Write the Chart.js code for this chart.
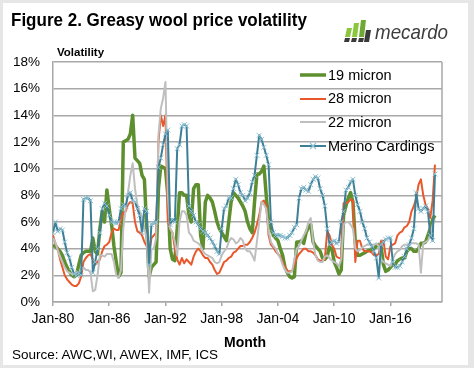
<!DOCTYPE html>
<html><head><meta charset="utf-8">
<script src="https://cdn.jsdelivr.net/npm/chart.js@4.4.0/dist/chart.umd.min.js"></script>
<style>
html,body{margin:0;padding:0;}
body{width:474px;height:368px;background:#e6e6e6;position:relative;overflow:hidden;font-family:"Liberation Sans",Arial,sans-serif;}
#panel{position:absolute;left:3px;top:3px;width:465px;height:362px;background:#fff;}
#c{position:absolute;left:0;top:0;}
.t{position:absolute;white-space:nowrap;line-height:1;color:#000;}
.lg{position:absolute;left:300px;}
.lt{position:absolute;left:328px;font-size:14.5px;line-height:1;white-space:nowrap;color:#000;}
</style></head>
<body>
<div id="panel"></div>
<canvas id="c" width="474" height="368"></canvas>
<div class="t" style="left:11px;top:10.8px;font-size:18px;font-weight:bold;transform:scaleX(0.945);transform-origin:0 0;">Figure 2. Greasy wool price volatility</div>
<svg style="position:absolute;left:343px;top:18px" width="112" height="28" viewBox="0 0 112 28">
  <polygon points="4,10 9,10 7,19 2,19" fill="#8cc63f"/>
  <polygon points="11,5 16,5 14,19 9,19" fill="#8cc63f"/>
  <polygon points="18,2 23,2 21,19 16,19" fill="#6fa832"/>
  <polygon points="2,20 7,20 6,24 1,24" fill="#3a3a3a"/>
  <polygon points="9,20 14,20 13,24 8,24" fill="#3a3a3a"/>
  <polygon points="16,20 21,20 20,24 15,24" fill="#3a3a3a"/>
  <polygon points="23,12 28,12 26,24 21,24" fill="#3a3a3a"/>
  <text x="32" y="21" font-family="Liberation Sans, Arial, sans-serif" font-style="italic" font-size="21" fill="#3d3d3d" textLength="73" lengthAdjust="spacingAndGlyphs">mecardo</text>
</svg>
<div class="t" style="left:57px;top:47.3px;font-size:11.5px;font-weight:bold;">Volatility</div>
<div class="t" style="left:224px;top:334.7px;font-size:14px;font-weight:bold;">Month</div>
<div class="t" style="left:12px;top:347.6px;font-size:13.5px;">Source: AWC,WI, AWEX, IMF, ICS</div>

<svg class="lg" style="top:69.5px" width="27" height="10"><line x1="0" y1="5" x2="26" y2="5" stroke="#5e8f2f" stroke-width="3.5"/></svg>
<div class="lt" style="top:67.7px">19 micron</div>
<svg class="lg" style="top:93.5px" width="27" height="10"><line x1="0" y1="5" x2="26" y2="5" stroke="#e9582b" stroke-width="2"/></svg>
<div class="lt" style="top:91.2px">28 micron</div>
<svg class="lg" style="top:117px" width="27" height="10"><line x1="0" y1="5" x2="26" y2="5" stroke="#bfbfbf" stroke-width="2"/></svg>
<div class="lt" style="top:114.7px">22 micron</div>
<svg class="lg" style="top:141px" width="27" height="10"><line x1="0" y1="5" x2="26" y2="5" stroke="#3d7f96" stroke-width="2"/><path d="M10,2 L16,8 M16,2 L10,8" stroke="#8ec1d3" stroke-width="1.2"/></svg>
<div class="lt" style="top:138.7px">Merino Cardings</div>

<script>
// Quarterly readings (Jan, Apr, Jul, Oct) from Jan-1980 to Oct-2020, volatility in %
const micron19 = [
4.2,4.2,4.0,3.8, 3.5,3.0,2.6,2.3, 2.0,1.9,2.0,2.8, 3.5,3.7,3.8,3.8, 3.8,4.8,3.8,3.6,
5.5,6.8,6.0,8.4, 7.0,5.8,4.2,3.0, 1.9,2.2,12.0,12.1, 12.2,12.6,14.0,10.8, 10.6,10.4,9.5,9.2,
5.5,1.9,2.6,2.8, 3.0,8.5,10.2,10.1, 10.0,8.0,4.0,3.2, 3.1,5.5,8.2,8.2, 8.0,8.0,6.5,6.0,
8.5,8.8,8.8,5.0, 4.0,7.5,8.0,7.8, 7.5,6.8,6.0,5.5, 5.2,4.9,4.6,6.0, 7.5,8.2,8.0,7.8,
7.5,7.2,6.8,6.0, 5.5,5.2,7.5,9.6, 9.6,9.8,10.2,8.0, 6.0,5.5,5.0,4.8, 4.6,4.0,3.5,2.6,
2.2,1.9,1.8,1.9, 4.5,4.5,4.6,4.4, 5.2,5.6,5.8,4.5, 4.2,4.0,3.8,3.3, 3.2,3.4,4.2,4.0,
3.0,2.6,2.1,2.4, 6.5,7.2,7.8,8.2, 7.5,4.5,3.5,3.5, 3.6,3.7,3.8,3.9, 3.9,4.0,4.2,4.3,
4.2,2.8,2.3,2.4, 2.6,2.8,2.8,3.1, 3.2,3.3,3.3,3.8, 4.0,4.0,3.8,3.8, 4.0,4.4,4.4,4.5,
5.0,5.5,6.2,6.5
];
const micron28 = [
5.0,4.4,4.0,3.2, 2.6,2.0,1.7,1.5, 1.3,1.2,1.2,1.4, 1.9,3.0,3.3,3.5, 3.6,3.2,2.8,3.0,
3.2,3.8,4.2,4.3, 4.5,5.2,5.5,5.4, 5.4,6.2,6.7,6.8, 7.3,7.5,7.4,6.0, 5.3,5.2,5.0,4.5,
4.2,3.5,4.8,5.0, 5.2,12.0,14.0,13.2, 14.0,6.0,5.5,5.2, 4.0,3.2,2.8,3.3, 2.9,3.2,3.0,2.8,
3.4,3.8,4.0,3.8, 3.5,3.3,3.3,3.0, 2.8,2.4,2.1,2.2, 2.6,3.0,3.1,3.3, 3.4,3.7,3.8,4.0,
4.2,4.2,4.3,4.3, 4.5,4.8,5.2,5.8, 6.5,7.5,7.6,7.2, 5.0,4.3,4.1,3.8, 3.6,3.4,3.0,2.6,
2.3,2.3,2.3,2.8, 3.3,3.6,3.8,4.0, 4.0,3.8,3.8,3.7, 3.5,3.2,3.1,3.1, 3.2,5.3,5.0,4.3,
4.0,3.4,3.3,3.3, 7.4,7.4,7.5,7.7, 7.6,3.0,4.6,4.6, 4.0,3.8,3.8,3.8, 3.7,3.5,3.5,3.6,
4.6,4.6,3.4,3.2, 4.2,4.3,4.4,5.0, 5.2,5.3,5.6,5.7, 6.0,6.8,7.2,7.8, 8.8,9.2,8.0,7.3,
7.0,6.3,7.6,10.3
];
const micron22 = [
4.8,4.5,3.9,3.4, 3.0,2.6,2.3,2.2, 2.1,2.1,2.2,2.2, 2.4,2.6,2.4,2.4, 2.2,0.8,0.9,2.0,
3.5,3.5,3.4,3.6, 3.6,3.6,3.0,2.0, 1.8,2.4,5.5,7.0, 8.2,9.5,10.4,8.5, 7.3,6.8,6.4,5.5,
4.8,0.7,4.0,4.0, 4.8,12.5,14.5,15.3, 16.5,8.0,5.5,5.2, 4.5,3.5,6.0,6.8, 6.8,6.5,5.2,5.0,
4.6,4.5,4.4,4.2, 3.8,3.6,3.5,3.4, 3.3,3.0,2.9,3.0, 3.5,3.8,4.0,4.5, 4.8,4.7,4.4,4.5,
4.8,4.6,4.0,3.8, 3.8,3.5,3.1,4.5, 6.0,7.5,7.3,7.0, 5.3,4.5,4.2,4.0, 3.6,3.3,2.8,2.4,
2.2,2.2,2.3,3.2, 4.0,4.2,4.6,5.0, 5.3,6.0,6.3,4.5, 3.5,3.1,3.0,3.0, 3.4,3.5,3.3,3.1,
3.0,2.9,2.7,3.2, 5.8,6.0,6.0,5.8, 5.5,4.0,3.8,3.9, 4.1,4.2,4.3,4.3, 4.3,4.3,4.4,4.2,
3.2,3.0,2.9,2.8, 2.7,3.2,3.6,3.8, 3.9,4.2,4.3,4.3, 4.3,4.4,4.4,4.4, 4.3,2.2,4.4,4.5,
4.6,5.0,5.8,6.2
];
const merinoCardings = [
5.2,6.0,5.3,5.5, 5.4,4.5,3.7,3.3, 2.6,2.1,2.0,2.2, 2.0,7.7,7.8,7.8, 7.6,2.2,3.0,4.0,
5.2,7.0,7.4,7.2, 6.5,6.0,6.0,5.9, 6.0,7.0,7.3,7.2, 8.0,8.2,7.6,7.5, 7.0,6.5,5.2,7.0,
6.8,2.8,5.8,5.9, 6.0,10.1,10.8,11.8, 12.6,12.9,5.8,6.2, 6.0,11.5,11.8,13.2, 13.3,13.2,7.2,6.8,
6.5,6.0,5.8,5.5, 5.3,5.2,5.0,4.8, 4.5,4.2,3.8,3.6, 5.5,7.0,7.2,7.8, 7.8,8.5,9.2,8.8,
8.2,8.0,7.6,7.8, 8.2,9.0,9.5,11.0, 12.5,12.2,11.6,11.0, 10.3,6.0,5.2,5.0, 5.0,5.0,4.9,4.8,
4.8,5.0,5.2,5.6, 5.8,7.8,8.5,8.6, 8.4,8.3,8.8,9.2, 9.4,9.3,8.5,8.0, 7.2,5.5,4.3,4.5,
4.6,4.4,4.5,6.0, 6.8,8.4,8.6,9.0, 9.2,8.0,7.3,6.8, 6.0,5.5,4.8,4.5, 4.2,3.8,3.3,1.8,
4.3,4.5,4.7,4.8, 4.8,3.0,2.6,2.6, 2.7,3.0,3.4,4.0, 4.3,4.8,5.5,8.2, 7.0,6.8,7.0,7.2,
6.8,5.0,4.6,9.6
];
const xTickLabels = ['Jan-80','Jan-86','Jan-92','Jan-98','Jan-04','Jan-10','Jan-16'];
const monthsPerTick = 72;
const monthsPerPoint = 3;
const axisMonths = 498;

const pts = arr => arr.map((v, i) => ({ x: i * monthsPerPoint, y: v }));
const gridCol = '#a8a8a8';

const frame = {
  id: 'frame',
  beforeDatasetsDraw(chart) {
    const { ctx, chartArea: a } = chart;
    ctx.save();
    ctx.strokeStyle = gridCol; ctx.lineWidth = 1.5;
    ctx.beginPath(); ctx.moveTo(a.right, a.top); ctx.lineTo(a.right, a.bottom); ctx.stroke();
    ctx.restore();
  }
};

new Chart(document.getElementById('c'), {
  type: 'line',
  data: {
    datasets: [
      { label: '19 micron', data: pts(micron19), borderColor: '#5e8f2f', borderWidth: 3.5, pointRadius: 0, order: 4 },
      { label: '28 micron', data: pts(micron28), borderColor: '#e9582b', borderWidth: 2, pointRadius: 0, order: 3 },
      { label: '22 micron', data: pts(micron22), borderColor: '#bfbfbf', borderWidth: 2, pointRadius: 0, order: 2 },
      { label: 'Merino Cardings', data: pts(merinoCardings), borderColor: '#3d7f96', borderWidth: 2,
        pointStyle: 'crossRot', pointRadius: 3.5, pointBorderColor: '#8ec1d3', pointBackgroundColor: '#8ec1d3', pointBorderWidth: 1, order: 1 }
    ]
  },
  options: {
    responsive: false, animation: false, devicePixelRatio: 1,
    layout: { padding: { left: 0, top: 62, right: 32, bottom: 0 } },
    elements: { line: { tension: 0, borderJoinStyle: 'round' } },
    plugins: { legend: { display: false }, tooltip: { enabled: false } },
    scales: {
      x: {
        type: 'linear', min: 0, max: axisMonths,
        afterBuildTicks: s => { s.ticks = xTickLabels.map((l, i) => ({ value: i * monthsPerTick })); },
        ticks: { autoSkip: false, maxRotation: 0, padding: 5, color: '#000',
          font: { family: 'Liberation Sans, Arial, sans-serif', size: 14 },
          callback: v => xTickLabels[Math.round(v / monthsPerTick)] },
        grid: { drawOnChartArea: false, drawTicks: true, tickLength: 4, color: gridCol, lineWidth: 1.5 },
        border: { color: gridCol, width: 1.5 },
        afterFit: s => { s.height = 66; }
      },
      y: {
        min: 0, max: 18,
        ticks: { stepSize: 2, padding: 13, color: '#000',
          font: { family: 'Liberation Sans, Arial, sans-serif', size: 13.5 },
          callback: v => v + '%' },
        grid: { drawTicks: false, color: gridCol, lineWidth: 1.5 },
        border: { color: gridCol, width: 1.5 },
        afterFit: s => { s.width = 53; }
      }
    }
  },
  plugins: [frame]
});
</script>
</body></html>
